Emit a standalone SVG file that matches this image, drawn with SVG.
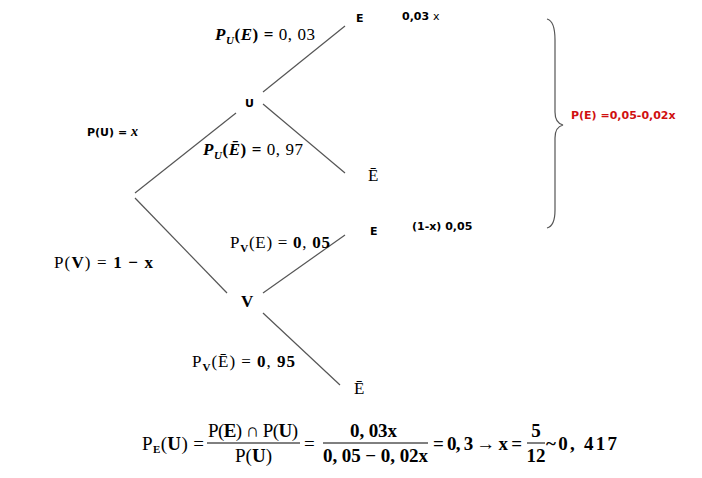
<svg xmlns="http://www.w3.org/2000/svg" width="702" height="478" viewBox="0 0 702 478">
<style>
.ln{stroke:#555;stroke-width:1.2;fill:none}
.s{font-family:"DejaVu Sans","Liberation Sans",sans-serif;font-weight:bold;font-size:11px;fill:#000}
.m{font-family:"Liberation Serif","DejaVu Serif",serif;font-size:17px;fill:#000}
.b{font-weight:bold}
.i{font-style:italic}
.sub{font-size:11px}
.f{font-family:"Liberation Serif","DejaVu Serif",serif;font-size:19px;fill:#000}
</style>
<rect width="702" height="478" fill="#fff"/>
<g id="connectors">
<line class="ln" x1="135" y1="193" x2="236" y2="113"/>
<line class="ln" x1="135" y1="198" x2="227" y2="293"/>
<line class="ln" x1="263" y1="92" x2="345" y2="26"/>
<line class="ln" x1="263" y1="104" x2="345" y2="173"/>
<line class="ln" x1="263" y1="293" x2="345" y2="235"/>
<line class="ln" x1="263" y1="313" x2="340" y2="385"/>
<path class="ln" d="M547,19 Q555,21 555,40 L555,112 Q555,123 563,125 Q555,127 555,138 L555,210 Q555,226 547,228"/>
</g>
<g id="node-U"><text class="s" x="245" y="107" font-size="12">U</text></g>
<g id="node-V"><text class="m b" x="241" y="307" font-size="16">V</text></g>
<g id="node-E1"><text class="s" x="356" y="22" font-size="12">E</text></g>
<g id="node-Ebar1"><text class="m" x="368" y="181" font-size="16">Ē</text></g>
<g id="node-E2"><text class="s" x="370" y="235" font-size="12">E</text></g>
<g id="node-Ebar2"><text class="m" x="354" y="394" font-size="16">Ē</text></g>
<g id="labels">
<text class="m b" x="215" y="40" textLength="100" lengthAdjust="spacing"><tspan class="i">P</tspan><tspan class="i sub" dy="4">U</tspan><tspan dy="-4">(</tspan><tspan class="i">E</tspan>) = <tspan font-weight="normal">0, 03</tspan></text>
<text class="m b" x="203" y="155" textLength="100" lengthAdjust="spacing"><tspan class="i">P</tspan><tspan class="i sub" dy="4">U</tspan><tspan dy="-4">(</tspan><tspan class="i">Ē</tspan>) = <tspan font-weight="normal">0, 97</tspan></text>
<text class="s" x="87" y="136">P(U) = <tspan font-family="Liberation Serif,serif" font-style="italic" font-size="14">x</tspan></text>
<text class="m" x="54" y="268" textLength="99" lengthAdjust="spacing">P(<tspan class="b">V</tspan>) = <tspan class="b">1 − x</tspan></text>
<text class="m" x="230" y="248" textLength="100" lengthAdjust="spacing">P<tspan class="sub b" dy="4">V</tspan><tspan dy="-4">(E) = </tspan><tspan class="b">0</tspan>, <tspan class="b">05</tspan></text>
<text class="m" x="192" y="367" textLength="103" lengthAdjust="spacing">P<tspan class="sub b" dy="4">V</tspan><tspan dy="-4">(Ē) = </tspan><tspan class="b">0</tspan>, <tspan class="b">95</tspan></text>
<text class="s" x="402" y="20">0,03 <tspan font-weight="normal">x</tspan></text>
<text class="s" x="412" y="230">(1-x) 0,05</text>
<text class="s" x="571" y="119" style="fill:#d01010">P(E) =0,05-0,02x</text>
</g>
<g id="formula">
<text class="f" x="142" y="450" textLength="62" lengthAdjust="spacing">P<tspan class="sub b" dy="3">E</tspan><tspan dy="-3">(</tspan><tspan class="b">U</tspan>) =</text>
<text class="f" x="208" y="437" textLength="90" lengthAdjust="spacing">P(<tspan class="b">E</tspan>) ∩ P(<tspan class="b">U</tspan>)</text>
<line x1="207" y1="443" x2="300" y2="443" stroke="#000" stroke-width="1"/>
<text class="f" x="235" y="462" textLength="37" lengthAdjust="spacing">P(<tspan class="b">U</tspan>)</text>
<text class="f" x="304" y="450">=</text>
<text class="f b" x="350" y="437" textLength="47" lengthAdjust="spacing">0, 03x</text>
<line x1="323" y1="443" x2="428" y2="443" stroke="#000" stroke-width="1"/>
<text class="f b" x="323" y="462" textLength="105" lengthAdjust="spacing">0, 05 − 0, 02x</text>
<text class="f b" x="433" y="450" textLength="89" lengthAdjust="spacing">= 0, 3 → x =</text>
<text class="f b" x="536" y="437" text-anchor="middle">5</text>
<line x1="527" y1="443" x2="545" y2="443" stroke="#000" stroke-width="1"/>
<text class="f b" x="536" y="462" text-anchor="middle">12</text>
<text class="f b" x="546" y="450" textLength="71" lengthAdjust="spacing">~0, 417</text>
</g>
</svg>
